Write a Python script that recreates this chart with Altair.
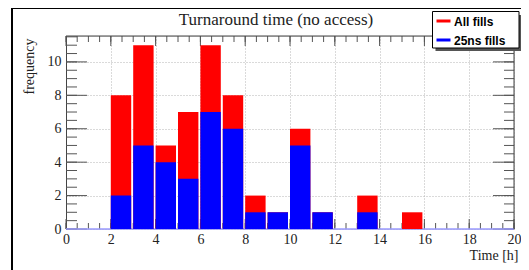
import altair as alt
import pandas as pd
import numpy as np

# ---- data ----
bin_start = [2, 3, 4, 5, 6, 7, 8, 9, 10, 11, 13, 15]
all_fills = [8, 11, 5, 7, 11, 8, 2, 1, 6, 1, 2, 1]
ns25_fills = [2, 5, 4, 3, 7, 6, 1, 1, 5, 1, 1, 0]
series_names = ["All fills", "25ns fills"]
series_colors = ["#ff0000", "#0000ff"]
x_ticks = list(range(0, 21, 2))
y_ticks = [0, 2, 4, 6, 8, 10]
title_text = "Turnaround time (no access)"
x_title = "Time [h]"
y_title = "frequency"

W, H = 448, 193
PAD_L, PAD_T, PAD_R, PAD_B = 58, 28, 7, 41
XMAX, YMAX = 20, 11.55
SERIF = "Liberation Serif"
SANS = "Liberation Sans"
TICK = "#555555"
TXT = "#222222"

df = pd.DataFrame({
    "start": bin_start,
    "end": [b + 1 for b in bin_start],
    "all": all_fills,
    "ns25": ns25_fills,
})

xs = alt.Scale(domain=[0, XMAX], nice=False, zero=False)
ys = alt.Scale(domain=[0, YMAX], nice=False)

x_axis = alt.Axis(
    values=x_ticks, grid=True, gridDash=[1, 2], gridColor="#b5b5b5",
    ticks=False, tickSize=0, domain=False,
    labelFont=SERIF, labelFontSize=14, labelColor=TXT, labelPadding=3,
    labelFlush=False, labelOverlap=False, labelBound=False, format="d",
    title=x_title, titleFont=SERIF, titleFontSize=14, titleFontWeight="normal",
    titleColor=TXT, titleX=W + 4, titleY=26, titleAlign="right", titleBaseline="middle",
)
y_axis = alt.Axis(
    values=y_ticks, grid=True, gridDash=[1, 2], gridColor="#b5b5b5",
    ticks=False, tickSize=0, domain=True, domainColor="#444444", domainWidth=1,
    labelFont=SERIF, labelFontSize=14, labelColor=TXT, labelPadding=5,
    labelFlush=False, labelOverlap=False, labelBound=False, format="d",
    title=y_title, titleFont=SERIF, titleFontSize=14, titleFontWeight="normal",
    titleColor=TXT, titleX=-37, titleY=2, titleAngle=-90, titleAlign="right",
    titleBaseline="middle",
)

one = pd.DataFrame({"a": [0]})

# outer canvas frame (left and top edges; the rest is cut off in the reference)
frame_left = alt.Chart(one).mark_rule(color="black", strokeWidth=2).encode(
    x=alt.value(-54), y=alt.value(-29), y2=alt.value(H + PAD_B + 2))
frame_top = alt.Chart(one).mark_rule(color="black", strokeWidth=2).encode(
    x=alt.value(-55), x2=alt.value(W + PAD_R + 2), y=alt.value(-28))

# tick marks (drawn inside the frame, ROOT style)
ymaj = pd.DataFrame({"v": y_ticks})
ymin = pd.DataFrame({"v": np.arange(0, 11.51, 0.5)})
xmaj = pd.DataFrame({"v": x_ticks})
xmin = pd.DataFrame({"v": np.arange(0, 20.01, 0.5)})

def yt(d, x1, x2):
    return alt.Chart(d).mark_rule(color=TICK, strokeWidth=1).encode(
        y=alt.Y("v:Q", scale=ys, axis=y_axis), x=alt.value(x1), x2=alt.value(x2))

def xt(d, y1, y2):
    return alt.Chart(d).mark_rule(color=TICK, strokeWidth=1).encode(
        x=alt.X("v:Q", scale=xs, axis=x_axis), y=alt.value(y1), y2=alt.value(y2))

ticks = [
    yt(ymin, 0, 11), yt(ymaj, 0, 21),
    yt(ymin, W, W - 10), yt(ymaj, W, W - 21),
    xt(xmin, 0, 6), xt(xmaj, 0, 10),
    xt(xmin, H, H - 6), xt(xmaj, H, H - 10),
]

baseline = alt.Chart(one).mark_rule(
    color="#9a9aff", strokeWidth=1.5
).encode(x=alt.value(0), x2=alt.value(W), y=alt.value(H))

red = alt.Chart(df).mark_rect(color=series_colors[0], x2Offset=-2).encode(
    x=alt.X("start:Q", scale=xs, axis=x_axis),
    x2="end:Q",
    y=alt.Y("all:Q", scale=ys, axis=y_axis),
    y2=alt.datum(0),
)
blue = alt.Chart(df).mark_rect(color=series_colors[1], x2Offset=-2).encode(
    x=alt.X("start:Q", scale=xs, axis=x_axis),
    x2="end:Q",
    y=alt.Y("ns25:Q", scale=ys, axis=y_axis),
    y2=alt.datum(0),
)

top_line = alt.Chart(one).mark_rule(color="#444444").encode(
    x=alt.value(0), x2=alt.value(W), y=alt.value(0))
right_line = alt.Chart(one).mark_rule(color="#444444").encode(
    x=alt.value(W), y=alt.value(0), y2=alt.value(H))

# legend
LX0, LX1 = 366.5, 453
shadow = alt.Chart(one).mark_rect(fill="#555555").encode(
    x=alt.value(LX0 + 3), x2=alt.value(LX1 + 3), y=alt.value(-21), y2=alt.value(15))
box = alt.Chart(one).mark_rect(fill="white", stroke="black", strokeWidth=1).encode(
    x=alt.value(LX0), x2=alt.value(LX1), y=alt.value(-24.5), y2=alt.value(12))
leg = []
for name, col, yy in zip(series_names, series_colors, [-15, 4]):
    leg.append(alt.Chart(one).mark_rule(color=col, strokeWidth=3).encode(
        x=alt.value(LX0 + 4), x2=alt.value(LX0 + 18), y=alt.value(yy)))
    leg.append(alt.Chart(one).mark_text(
        text=name, font=SANS, fontSize=12, fontWeight="bold", color="black",
        align="left", baseline="middle").encode(x=alt.value(LX0 + 21.5), y=alt.value(yy + 0.5)))

title = alt.Chart(one).mark_text(
    text=title_text, font=SERIF, fontSize=17, color=TXT,
    align="center", baseline="alphabetic").encode(x=alt.value(210), y=alt.value(-11))

chart = alt.layer(
    frame_left, frame_top, *ticks, baseline, red, blue, top_line, right_line,
    shadow, box, *leg, title,
).properties(
    width=W, height=H,
    autosize=alt.AutoSizeParams(type="none"),
    padding={"left": PAD_L, "top": PAD_T, "right": PAD_R, "bottom": PAD_B},
).configure_view(stroke=None).configure(background="white")

chart.save("out.html", embed_options={"renderer": "svg", "actions": False})
